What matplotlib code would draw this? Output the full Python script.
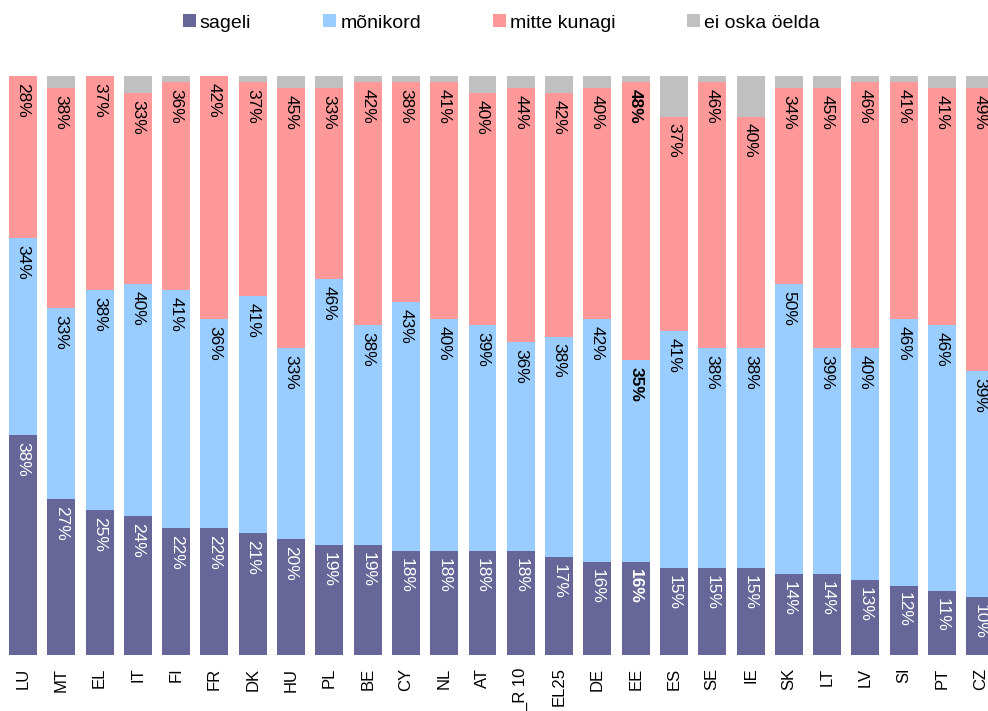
import matplotlib
matplotlib.use('Agg')
import matplotlib.pyplot as plt
import numpy as np

plt.rcParams['font.family'] = ['Liberation Sans', 'DejaVu Sans']

countries = ["LU", "MT", "EL", "IT", "FI", "FR", "DK", "HU", "PL", "BE", "CY", "NL", "AT",
             "_R 10", "EL25", "DE", "EE", "ES", "SE", "IE", "SK", "LT", "LV", "SI", "PT", "CZ"]
sageli = [38, 27, 25, 24, 22, 22, 21, 20, 19, 19, 18, 18, 18, 18, 17, 16, 16, 15, 15, 15, 14, 14, 13, 12, 11, 10]
monikord = [34, 33, 38, 40, 41, 36, 41, 33, 46, 38, 43, 40, 39, 36, 38, 42, 35, 41, 38, 38, 50, 39, 40, 46, 46, 39]
mitte = [28, 38, 37, 33, 36, 42, 37, 45, 33, 42, 38, 41, 40, 44, 42, 40, 48, 37, 46, 40, 34, 45, 46, 41, 41, 49]
ei_oska = [100 - a - b - c for a, b, c in zip(sageli, monikord, mitte)]
bold_country = "EE"

names = ["sageli", "mõnikord", "mitte kunagi", "ei oska öelda"]
colors = ["#666699", "#99CCFF", "#FF9999", "#C0C0C0"]
label_colors = ["white", "black", "black", None]

fig = plt.figure(figsize=(9.88, 7.11), dpi=100)
ax = fig.add_axes([0, 56 / 711, 1, 579 / 711])

x = np.arange(len(countries))
bottom = np.zeros(len(countries))
for vals, name, col, lcol in zip([sageli, monikord, mitte, ei_oska], names, colors, label_colors):
    vals = np.array(vals, dtype=float)
    ax.bar(x, vals, 0.73, bottom=bottom, color=col, label=name, linewidth=0)
    if lcol is not None:
        for i in range(len(x)):
            ax.annotate(f"{int(vals[i])}%", (x[i], bottom[i] + vals[i]),
                        xytext=(0, -5), textcoords='offset points',
                        ha='center', va='top', rotation=-90, fontsize=12.5, color=lcol,
                        fontweight='bold' if countries[i] == bold_country else 'normal')
    bottom += vals

ax.set_xlim(-0.6, 25.2)
ax.set_ylim(0, 100)
ax.set_xticks(x)
ax.set_xticklabels(countries, rotation=90, fontsize=12)
ax.tick_params(axis='x', length=0, pad=9)
ax.set_yticks([])
for s in ax.spines.values():
    s.set_visible(False)

fig.legend(loc='center', bbox_to_anchor=(501.5 / 988, 1 - 23 / 711), ncol=4, frameon=False,
           fontsize=14, handlelength=0.67, handleheight=0.62, handletextpad=0.2,
           columnspacing=3.7, borderaxespad=0, borderpad=0)

fig.savefig("out.png", dpi=100)
